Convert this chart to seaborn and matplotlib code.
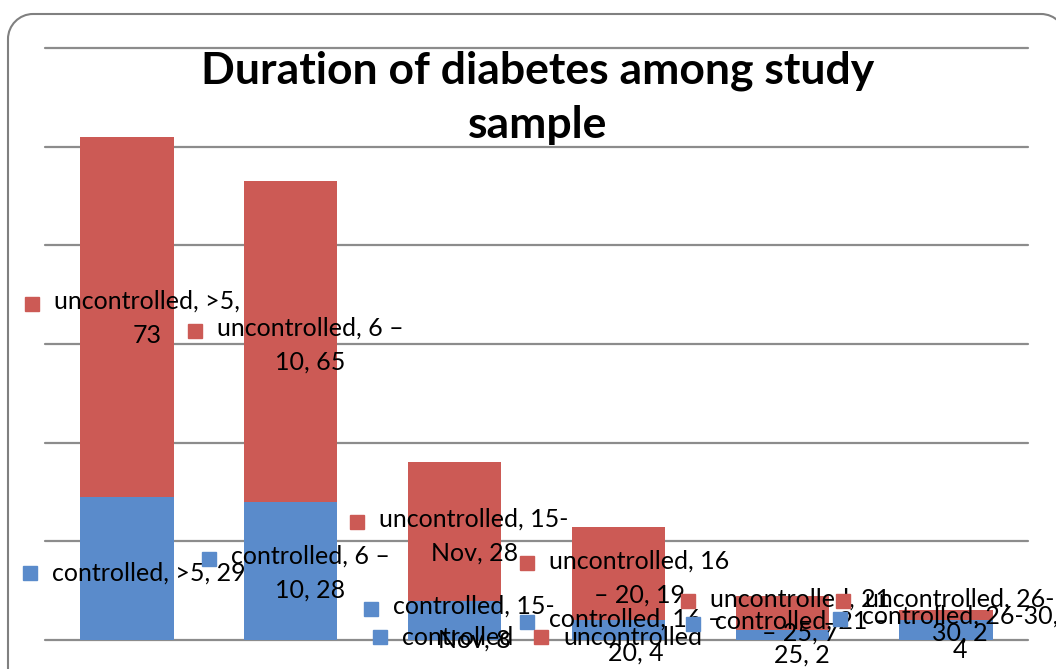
import matplotlib
matplotlib.use("Agg")
import matplotlib.pyplot as plt
from matplotlib.patches import Rectangle, PathPatch
from matplotlib.path import Path
from matplotlib.transforms import IdentityTransform
import seaborn as sns
import numpy as np

# data
categories = [">5", "6 – 10", "15-Nov", "16 – 20", "21 – 25", "26-30"]
controlled = [29, 28, 8, 4, 2, 4]
uncontrolled = [73, 65, 28, 19, 7, 2]

red = "#CC5A55"
blue = "#5A8BCB"
grid_c = "#8C8C8C"

sns.set_theme(style="white")
plt.rcParams["font.family"] = ["Lato", "DejaVu Sans"]

W, H = 1056, 669
fig = plt.figure(figsize=(W / 100, H / 100), dpi=100)
ax = fig.add_axes([45 / W, 29 / H, 983 / W, 592 / H])

totals = np.array(controlled) + np.array(uncontrolled)
sns.barplot(x=categories, y=totals, color=red, saturation=1, width=0.57, ax=ax,
            zorder=3, linewidth=0)
sns.barplot(x=categories, y=controlled, color=blue, saturation=1, width=0.57, ax=ax,
            zorder=3, linewidth=0)

ax.set_xlim(-0.5, 5.5)
ax.set_ylim(0, 120)
ax.set_yticks(range(0, 121, 20))
for y in range(0, 121, 20):
    ax.axhline(y, color=grid_c, lw=1.6, zorder=1, clip_on=False)
ax.set_xticks([])
ax.set_yticklabels([])
ax.tick_params(left=False, bottom=False)
ax.set_xlabel("")
ax.set_ylabel("")
for s in ax.spines.values():
    s.set_visible(False)

# chart border: left and top edges with rounded corners, in pixels
r = 25
left, top, right = 8, H - 14, 1066
k = 0.55 * r
verts = [(left, -10), (left, top - r),
         (left, top - r + k), (left + r - k, top), (left + r, top),
         (right - r, top),
         (right - r + k, top), (right, top - r + k), (right, top - r),
         (right, -10)]
codes = [Path.MOVETO, Path.LINETO,
         Path.CURVE4, Path.CURVE4, Path.CURVE4,
         Path.LINETO,
         Path.CURVE4, Path.CURVE4, Path.CURVE4,
         Path.LINETO]
fig.add_artist(PathPatch(Path(verts, codes), transform=IdentityTransform(),
                         fill=False, ec="#808080", lw=1.5))

fig.text(538 / W, 1 - 98 / H, "Duration of diabetes among study\nsample",
         ha="center", va="center", fontsize=32, fontweight="bold",
         linespacing=1.42, color="black")

# data labels: (text, series colour, x, y)
labels = [
    ("uncontrolled, >5,\n73", red, 0.123, 65.3),
    ("uncontrolled, 6 –\n10, 65", red, 1.118, 59.8),
    ("controlled, >5, 29", blue, 0.135, 13.6),
    ("controlled, 6 –\n10, 28", blue, 1.118, 13.6),
    ("uncontrolled, 15-\nNov, 28", red, 2.119, 21.1),
    ("uncontrolled, 16\n– 20, 19", red, 3.126, 12.6),
    ("controlled, 15-\nNov, 8", blue, 2.119, 3.4),
    ("controlled", blue, 2.021, 0.6),
    ("controlled, 16 –\n20, 4", blue, 3.107, 0.8),
    ("uncontrolled", red, 3.089, 0.6),
    ("uncontrolled, 21\n– 25, 7", red, 4.108, 4.9),
    ("controlled, 21 –\n25, 2", blue, 4.121, 0.4),
    ("uncontrolled, 26-\n30, 2", red, 5.085, 4.9),
    ("controlled, 26-30,\n4", blue, 5.085, 1.4),
]
texts = []
for txt, c, x, y in labels:
    t = ax.text(x, y, txt, ha="center", va="center", multialignment="center",
                fontsize=18, linespacing=1.6, color="black", zorder=5)
    texts.append((t, c, txt.count("\n") + 1))

# square keys left of the first line of each label
fig.canvas.draw()
inv = fig.transFigure.inverted()
for t, c, n in texts:
    bb = t.get_window_extent()
    lh = bb.height / n
    cx, cy = bb.x0 - 22, bb.y1 - lh / 2
    fx, fy = inv.transform((cx - 7, cy - 7))
    fx2, fy2 = inv.transform((cx + 7, cy + 7))
    fig.add_artist(Rectangle((fx, fy), fx2 - fx, fy2 - fy, transform=fig.transFigure,
                             color=c, zorder=6))

fig.savefig("out.png", dpi=100)
